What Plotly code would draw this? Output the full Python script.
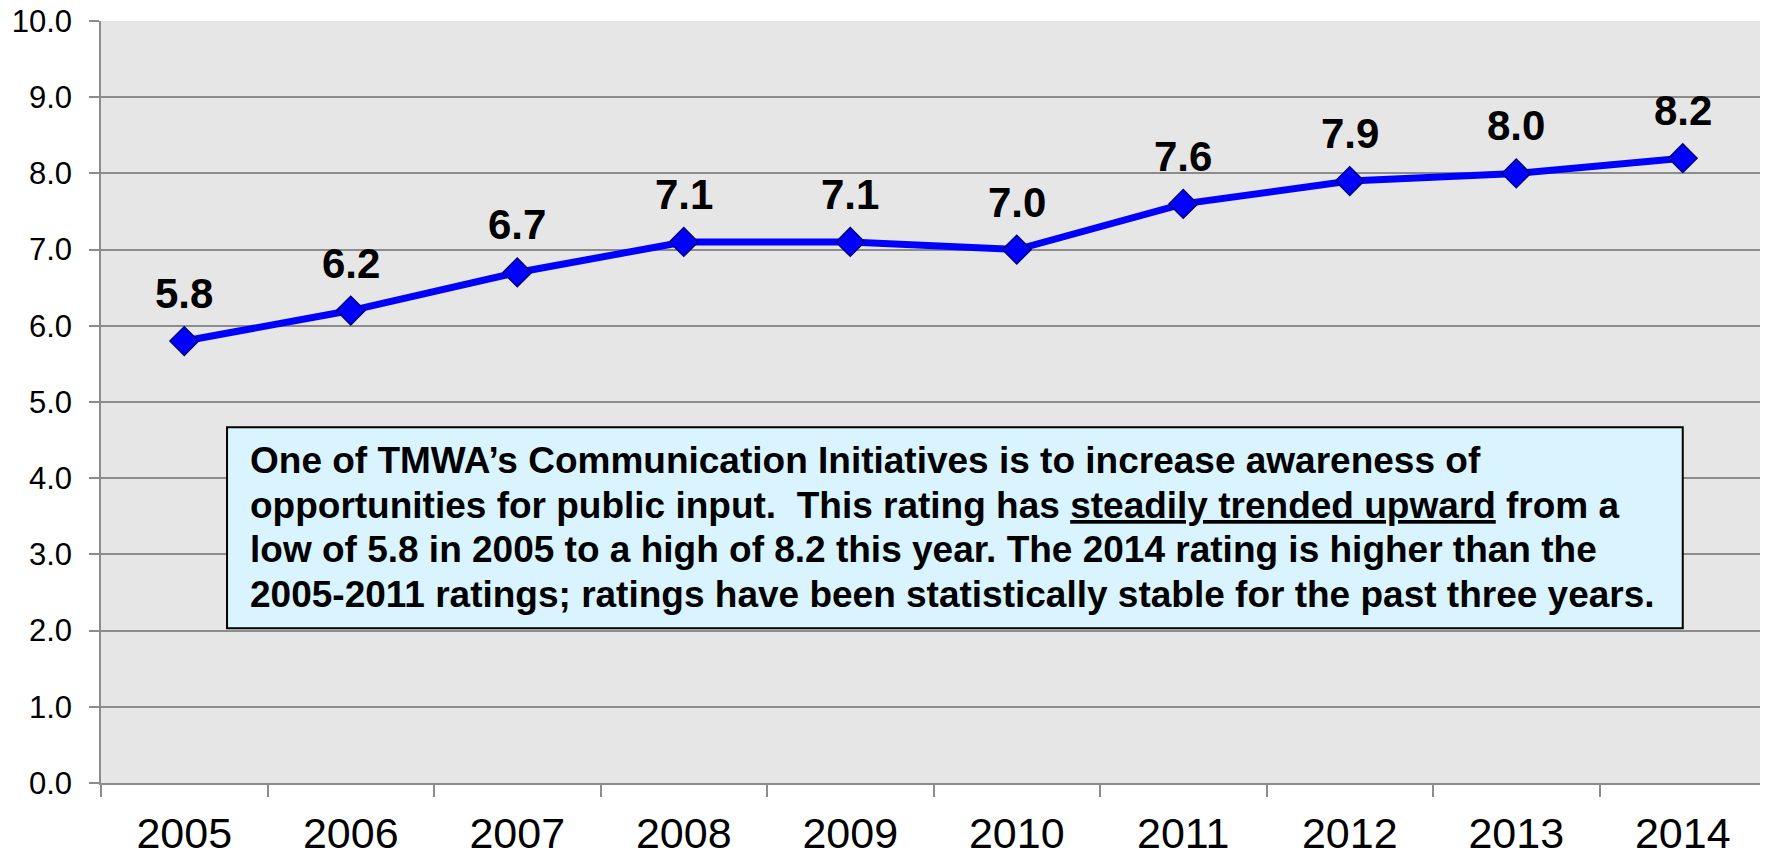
import plotly.graph_objects as go

years = ['2005', '2006', '2007', '2008', '2009', '2010', '2011', '2012', '2013', '2014']
ratings = [5.8, 6.2, 6.7, 7.1, 7.1, 7.0, 7.6, 7.9, 8.0, 8.2]
rating_labels = ['5.8', '6.2', '6.7', '7.1', '7.1', '7.0', '7.6', '7.9', '8.0', '8.2']
y_ticks = [0, 1, 2, 3, 4, 5, 6, 7, 8, 9, 10]

note_lines = [
    'One of TMWA\u2019s Communication Initiatives is to increase awareness of',
    'opportunities for public input.\u00a0 This rating has <u>steadily trended upward</u> from a',
    'low of 5.8 in 2005 to a high of 8.2 this year. The 2014 rating is higher than the',
    '2005-2011 ratings; ratings have been statistically stable for the past three years.',
]

FONT = 'Arial, Liberation Sans, sans-serif'
GRID = '#8c8c8c'

fig = go.Figure()
fig.add_trace(go.Scatter(
    x=years, y=ratings,
    mode='lines+markers',
    line=dict(color='#0000ff', width=7),
    marker=dict(symbol='diamond', size=22, color='#0000ff',
                line=dict(color='#000080', width=1.5)),
    showlegend=False,
    hoverinfo='skip',
))

# value labels above each point (category index, not the year string)
for i, (val, lab) in enumerate(zip(ratings, rating_labels)):
    fig.add_annotation(x=i, y=val, text='<b>%s</b>' % lab, showarrow=False,
                       yanchor='bottom', yshift=22,
                       font=dict(family=FONT, size=42, color='black'))

# note box
fig.add_shape(type='rect', xref='paper', yref='paper',
              x0=0.0757, x1=0.950, y0=0.203, y1=0.467,
              fillcolor='#d9f4fe', line=dict(color='black', width=2), layer='above')
line_y = [0.423, 0.364, 0.306, 0.247]
for txt, ly in zip(note_lines, line_y):
    fig.add_annotation(xref='paper', yref='paper', x=0.0883, y=ly,
                       xanchor='left', yanchor='middle', align='left', showarrow=False,
                       text='<b>' + txt + '</b>',
                       font=dict(family=FONT, size=37, color='black'))

# page body adds an 8px margin, so the plot margins are reduced by it
fig.update_layout(
    width=1768, height=856,
    margin=dict(l=93, r=10, t=13, b=81),
    paper_bgcolor='white',
    plot_bgcolor='#e6e6e6',
    font=dict(family=FONT, color='black'),
)
fig.update_xaxes(
    type='category', range=[-0.5, 9.5], tickson='boundaries', ticks='outside',
    ticklen=12, tickwidth=1.5, tickcolor=GRID, showgrid=False,
    showline=True, linecolor=GRID, linewidth=1.5, automargin=False,
    tickfont=dict(size=43), tickangle=0, ticklabelstandoff=12,
)
fig.update_yaxes(
    range=[0, 10], tickvals=y_ticks, tickformat='.1f', ticks='outside', ticklen=10,
    tickwidth=1.5, tickcolor=GRID, showgrid=True, gridcolor=GRID, gridwidth=1.5,
    showline=True, linecolor=GRID, linewidth=1.5, zeroline=False, automargin=False,
    tickfont=dict(size=31), ticklabelstandoff=11, ticklabeloverflow='allow',
)

fig.write_html('out.html')
